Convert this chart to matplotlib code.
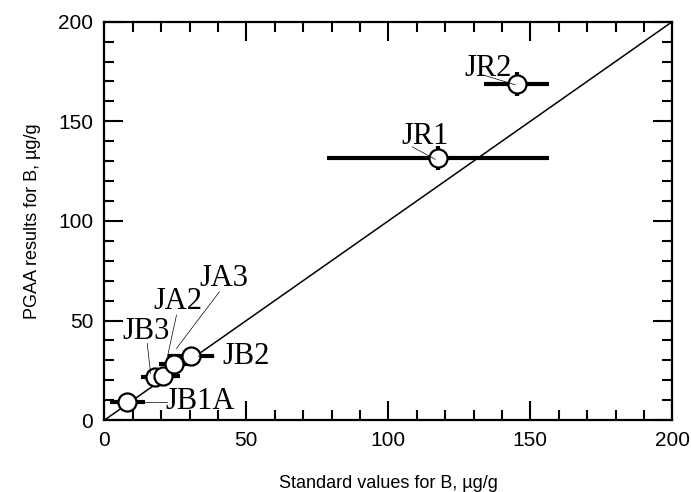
import matplotlib
matplotlib.use("Agg")

import matplotlib.pyplot as plt

# reference samples: standard value (x), PGAA result (y), uncertainties
samples = ["JB1A", "JB3", "JA2", "JA3", "JB2", "JR1", "JR2"]
std_vals = [8.1, 17.8, 20.7, 24.6, 30.5, 117.4, 145.2]
pgaa_vals = [9.0, 21.8, 22.1, 28.0, 32.2, 131.4, 168.7]
x_err = [6.2, 5.0, 6.0, 5.5, 8.0, 39.0, 11.5]
y_err = [2.0, 2.0, 2.0, 2.0, 2.0, 6.0, 6.0]

# label text positions and leader line start points (data coords)
label_xy = [(33.7, 9.2), (14.8, 44.4), (26.0, 59.4), (42.0, 71.1),
            (49.8, 31.8), (112.9, 142.3), (135.0, 176.5)]
leader_from = [(21.9, 9.2), (15.1, 38.5), (25.4, 52.7), (40.5, 64.4),
               (38.8, 31.8), (108.4, 137.2), (133.5, 173.2)]
leader_to = [(13.7, 9.2), (16.3, 23.4), (21.7, 28.5), (25.4, 36.0),
             (33.1, 32.1), (116.5, 130.9), (144.7, 168.3)]

fig = plt.figure(figsize=(6.91, 4.92), dpi=100)
ax = fig.add_axes([0.151, 0.146, 0.822, 0.81])

ax.plot([0, 200], [0, 200], color="black", lw=1.1, zorder=1)

ax.errorbar(std_vals, pgaa_vals, xerr=x_err, yerr=y_err, fmt="o",
            color="black", ecolor="black", elinewidth=3, capsize=0,
            markersize=13, markerfacecolor="white", markeredgecolor="black",
            markeredgewidth=1.6, zorder=3)

for name, (tx, ty), (x0, y0), (x1, y1) in zip(samples, label_xy, leader_from, leader_to):
    ax.plot([x0, x1], [y0, y1], color="black", lw=0.5, zorder=4)
    ax.text(tx, ty, name, ha="center", va="center", fontsize=22,
            family="Liberation Serif", zorder=5)

ax.set_xlim(0, 200)
ax.set_ylim(0, 200)
ax.set_xticks(range(0, 201, 50))
ax.set_yticks(range(0, 201, 50))
ax.set_xticks(range(0, 201, 10), minor=True)
ax.set_yticks(range(0, 201, 10), minor=True)
ax.tick_params(which="both", direction="in", top=True, right=True, width=1.5)
ax.tick_params(which="major", length=14, labelsize=15, pad=8)
ax.tick_params(which="minor", length=7)
for lab in ax.get_xticklabels() + ax.get_yticklabels():
    lab.set_family("Liberation Sans")
for sp in ax.spines.values():
    sp.set_linewidth(1.6)

ax.set_xlabel("Standard values for B, \u00b5g/g", fontsize=13,
              family="Liberation Sans", labelpad=18)
ax.set_ylabel("PGAA results for B, \u00b5g/g", fontsize=13,
              family="Liberation Sans", labelpad=12)

fig.savefig("out.png", dpi=100)
plt.close(fig)
